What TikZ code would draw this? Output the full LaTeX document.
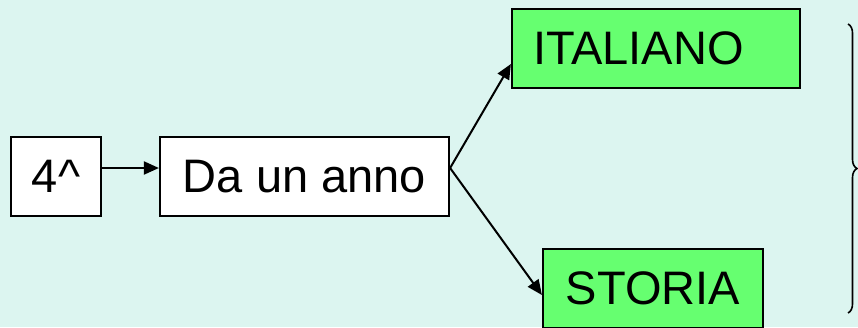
\documentclass[tikz,border=0pt]{standalone}
\usepackage{fontspec}
\setmainfont{Liberation Sans}
\usepackage{xcolor}
\usetikzlibrary{arrows.meta,decorations.pathreplacing}
\definecolor{sfondo}{HTML}{DCF5F0}
\definecolor{verde}{HTML}{66FF70}
\begin{document}
\begin{tikzpicture}[x=1pt,y=-1pt,
    box/.style={draw,line width=2.2pt,inner sep=0pt,minimum height=79pt,
        font=\fontsize{47}{56}\selectfont},
    freccia/.style={line width=2pt,-{Triangle[length=15pt,width=13pt]}}]
    \fill[sfondo] (0,0) rectangle (858,327);
    \useasboundingbox (0,0) rectangle (858,327);
    \node[box,fill=white,minimum width=90pt] (quarta) at (56,176.5) {4\textasciicircum};
    \node[box,fill=white,minimum width=289pt] (anno) at (304.5,176.5) {Da un anno};
    \node[box,fill=verde,inner xsep=21pt,text width=246pt,align=left] (italiano) at (656,48.5) {ITALIANO};
    \node[box,fill=verde,minimum width=220pt] (storia) at (653,288.5) {STORIA};
    \draw[freccia] ([yshift=8.5pt]quarta.east) to ([yshift=8.5pt]anno.west);
    \draw[freccia] ([yshift=8.5pt]anno.east) to ([yshift=-15.5pt]italiano.west);
    \draw[freccia] ([yshift=8.5pt]anno.east) to ([yshift=-6.5pt]storia.west);
    % graffa a destra
    \draw[line width=1.6pt,decorate,decoration={brace,amplitude=9pt}]
        (848,24) -- (848,313);
\end{tikzpicture}
\end{document}
